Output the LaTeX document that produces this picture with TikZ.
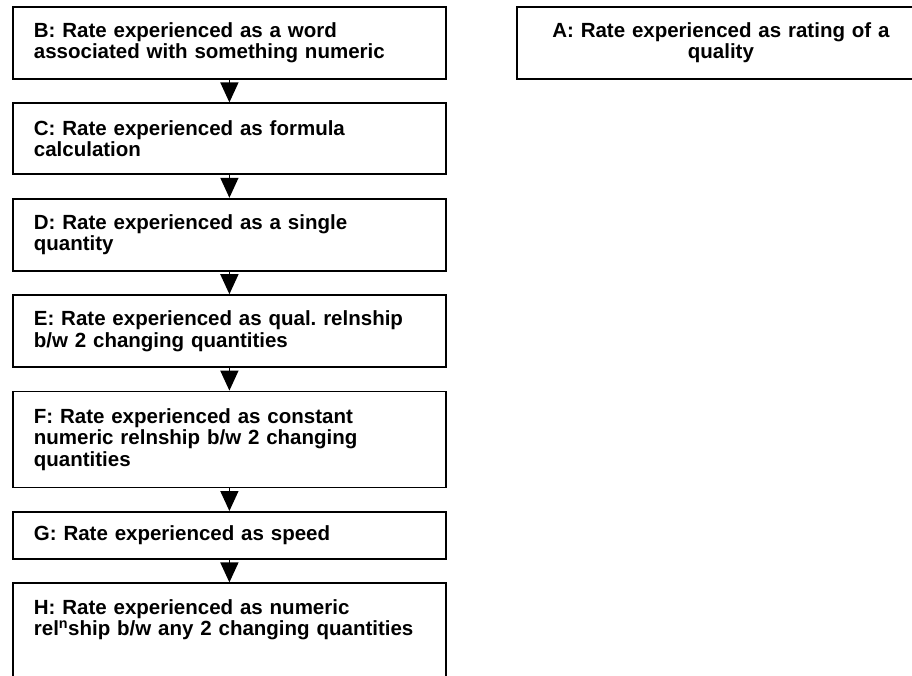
\documentclass[tikz,border=0pt]{standalone}
\usepackage{fontspec}
\setmainfont{Liberation Sans}
\frenchspacing
\usepackage{tikz}
\usetikzlibrary{positioning}
\usetikzlibrary{graphs}
\usetikzlibrary{arrows.meta}
\tikzset{bigtri/.tip={Triangle[width=18pt,length=20pt]}}
\tikzset{stage/.style={draw,rectangle,line width=1.8pt,text width=391pt,inner xsep=21pt,inner ysep=8pt,align=left,minimum height=72pt,font=\bfseries\fontsize{20.5}{21.5}\selectfont}}

\begin{document}
\begin{tikzpicture}[>=bigtri]
            \clip (0pt,0pt) rectangle (912pt,-676pt);
            \node (b) [stage,anchor=north west] at (12pt,-6pt) {B: Rate experienced as a word\\associated with something numeric};
            \node (c) [stage,below=22.6pt of b,minimum height=71pt] {C: Rate experienced as formula\\calculation};
            \node (d) [stage,below=22.6pt of c] {D: Rate experienced as a single\\quantity};
            \node (e) [stage,below=22.6pt of d] {E: Rate experienced as qual. relnship\\b/w 2 changing quantities};
            \node (f) [stage,below=22.6pt of e,minimum height=96pt] {F: Rate experienced as constant\\numeric relnship b/w 2 changing\\quantities};
            \node (g) [stage,below=22.6pt of f,minimum height=47pt] {G: Rate experienced as speed};
            \node (h) [stage,below=22.6pt of g,inner ysep=16pt,text depth=60pt] {H: Rate experienced as numeric\\rel\textsuperscript{n}ship b/w any 2 changing quantities};
            \node (a) [stage,anchor=north west,align=center,text width=366pt] at (516pt,-6pt) {A: Rate experienced as rating of a\\quality};

            \graph[edges={line width=1.5pt}]{
                (b) -> (c) -> (d) -> (e) -> (f) -> (g) -> (h);
            };
        \end{tikzpicture}
\end{document}
